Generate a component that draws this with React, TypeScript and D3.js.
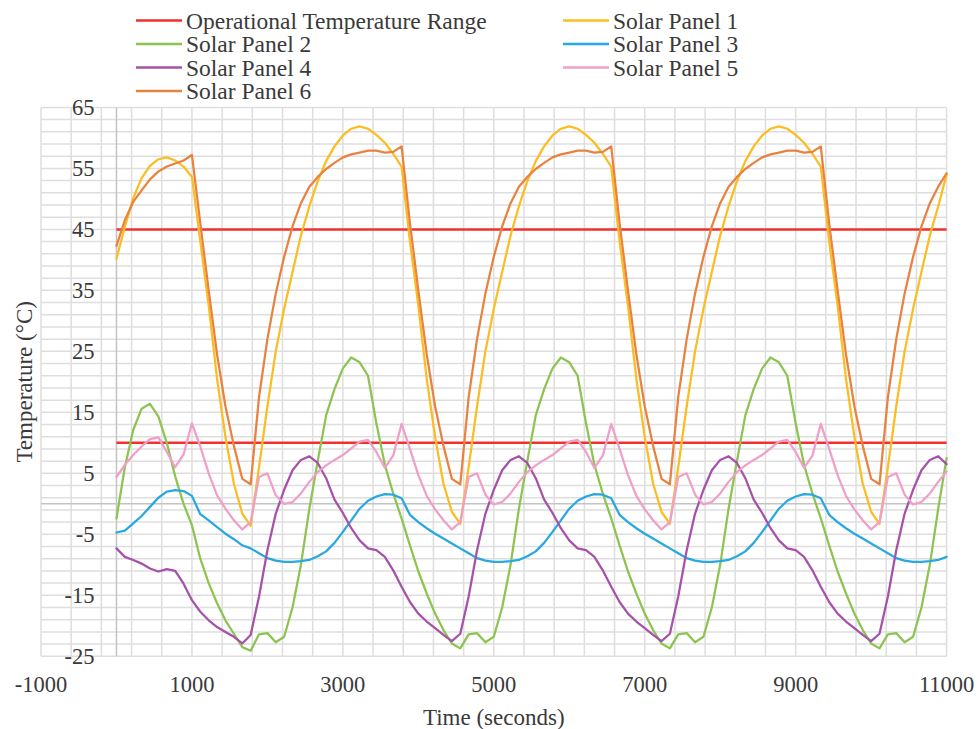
import { useEffect, useRef } from 'react';
import * as d3 from 'd3';

const WIDTH = 979;
const HEIGHT = 729;
const PLOT = { left: 41, right: 946.6, top: 107.4, bottom: 656.3 };
const FONT = '"Liberation Serif", "Times New Roman", serif';

// sample times (seconds)
const TIME = [
  0, 111, 222, 333, 444, 556, 667, 778, 889,
  1000, 1111, 1222, 1333, 1444, 1556, 1667, 1778, 1889,
  2000, 2111, 2222, 2333, 2444, 2556, 2667, 2778, 2889,
  3000, 3111, 3222, 3333, 3444, 3556, 3667, 3778, 3889,
  4000, 4111, 4222, 4333, 4444, 4556, 4667, 4778, 4889,
  5000, 5111, 5222, 5333, 5444, 5556, 5667, 5778, 5889,
  6000, 6111, 6222, 6333, 6444, 6556, 6667, 6778, 6889,
  7000, 7111, 7222, 7333, 7444, 7556, 7667, 7778, 7889,
  8000, 8111, 8222, 8333, 8444, 8556, 8667, 8778, 8889,
  9000, 9111, 9222, 9333, 9444, 9556, 9667, 9778, 9889,
  10000, 10111, 10222, 10333, 10444, 10556, 10667, 10778, 10889,
  11000,
];

const OP_TIME = [0, 11000];
const OP_UPPER = [45, 45];
const OP_LOWER = [10, 10];

const PANEL_1 = [
  40.2, 45.4, 50.1, 53.4, 55.4, 56.5, 56.8, 56.3, 55.3,
  53.6, 43, 32.5, 20.5, 11, 3.3, -1.6, -3.6, 6, 16, 25, 32, 38, 44, 48.8, 52.9, 56.2, 58.6, 60.4, 61.5, 61.9, 61.5, 60.5, 59.2, 57.4,
  55.3, 43, 32.5, 20.5, 11, 3.3, -1.3, -3.3, 6, 16, 25, 32, 38, 44, 48.8, 52.9, 56.2, 58.6, 60.4, 61.5, 61.9, 61.5, 60.5, 59.2, 57.4,
  55.3, 43, 32.5, 20.5, 11, 3.3, -1.3, -3.3, 6, 16, 25, 32, 38, 44, 48.8, 52.9, 56.2, 58.6, 60.4, 61.5, 61.9, 61.5, 60.5, 59.2, 57.4,
  55.3, 43, 32.5, 20.5, 11, 3.3, -1.3, -3.3, 6, 16, 25, 32, 38, 44, 48.8, 54,
];

const PANEL_2 = [
  -2.4, 6, 12.1, 15.6, 16.4, 14.3, 10, 4.5, 0,
  -3.5, -9, -13, -16.3, -19.1, -21.3, -23.5, -24.1, -21.4, -21.2, -22.7, -21.8, -17, -10, -0.8, 7, 14.5, 18.8, 22.2, 24, 23.2, 21, 13.2, 6.4, 1.7,
  -2.4, -6.8, -11.1, -14.7, -18, -20.7, -22.9, -23.7, -21.4, -21.2, -22.7, -21.8, -17, -10, -0.8, 7, 14.5, 18.8, 22.2, 24, 23.2, 21, 13.2, 6.4, 1.7,
  -2.4, -6.8, -11.1, -14.7, -18, -20.7, -22.9, -23.7, -21.4, -21.2, -22.7, -21.8, -17, -10, -0.8, 7, 14.5, 18.8, 22.2, 24, 23.2, 21, 13.2, 6.4, 1.7,
  -2.4, -6.8, -11.1, -14.7, -18, -20.7, -22.9, -23.7, -21.4, -21.2, -22.7, -21.8, -17, -10, -0.8, 7.5,
];

const PANEL_3 = [
  -4.7, -4.4, -3.2, -2.0, -0.5, 1.0, 2.0, 2.25, 2.1,
  1.3, -1.7, -2.7, -3.8, -4.9, -5.8, -6.8, -7.3, -8.1, -8.9, -9.3, -9.5, -9.5, -9.4, -9.2, -8.6, -7.8, -6.4, -4.6, -2.7, -0.8, 0.5, 1.2, 1.6, 1.5,
  0.9, -1.8, -3.0, -4.0, -4.9, -5.7, -6.5, -7.3, -8.1, -8.9, -9.3, -9.5, -9.5, -9.4, -9.2, -8.6, -7.8, -6.4, -4.6, -2.7, -0.8, 0.5, 1.2, 1.6, 1.5,
  0.9, -1.8, -3.0, -4.0, -4.9, -5.7, -6.5, -7.3, -8.1, -8.9, -9.3, -9.5, -9.5, -9.4, -9.2, -8.6, -7.8, -6.4, -4.6, -2.7, -0.8, 0.5, 1.2, 1.6, 1.5,
  0.9, -1.8, -3.0, -4.0, -4.9, -5.7, -6.5, -7.3, -8.1, -8.9, -9.3, -9.5, -9.5, -9.4, -9.2, -8.7,
];

const PANEL_4 = [
  -7.3, -8.7, -9.2, -9.8, -10.6, -11.1, -10.7, -11.0, -13.1,
  -15.8, -17.7, -19.1, -20.2, -21, -21.8, -22.9, -21.5, -15.2, -7.6, -1.6, 2.3, 5.5, 7.2, 7.8, 6.7, 4.2, 0.7, -1.5, -4.0, -6.0, -7.3, -7.6, -8.7, -10.9,
  -13.6, -16.1, -18, -19.3, -20.4, -21.5, -22.5, -21.3, -15.2, -7.6, -1.6, 2.3, 5.5, 7.2, 7.8, 6.7, 4.2, 0.7, -1.5, -4.0, -6.0, -7.3, -7.6, -8.7, -10.9,
  -13.6, -16.1, -18, -19.3, -20.4, -21.5, -22.5, -21.3, -15.2, -7.6, -1.6, 2.3, 5.5, 7.2, 7.8, 6.7, 4.2, 0.7, -1.5, -4.0, -6.0, -7.3, -7.6, -8.7, -10.9,
  -13.6, -16.1, -18, -19.3, -20.4, -21.5, -22.5, -21.3, -15.2, -7.6, -1.6, 2.3, 5.5, 7.2, 7.8, 6.5,
];

const PANEL_5 = [
  4.4, 6.4, 8.0, 9.4, 10.6, 10.9, 8.5, 6.0, 8.1,
  13.2, 9.4, 5.0, 1.4, -0.8, -2.7, -4.2, -3.0, 4.4, 5.0, 1.4, 0, 0.3, 1.7, 3.6, 5.2, 6.3, 7.2, 8.0, 9.1, 10.2, 10.5, 8.5, 5.9, 7.9,
  13.1, 9, 4.7, 1.3, -0.9, -2.7, -4.2, -3.0, 4.4, 5.0, 1.5, -0.1, 0.3, 1.7, 3.6, 5.2, 6.3, 7.2, 8.0, 9.1, 10.2, 10.5, 8.5, 5.9, 7.9,
  13.1, 9, 4.7, 1.3, -0.9, -2.7, -4.2, -3.0, 4.4, 5.0, 1.5, -0.1, 0.3, 1.7, 3.6, 5.2, 6.3, 7.2, 8.0, 9.1, 10.2, 10.5, 8.5, 5.9, 7.9,
  13.1, 9, 4.7, 1.3, -0.9, -2.7, -4.2, -3.0, 4.4, 5.0, 1.5, -0.1, 0.3, 1.7, 3.6, 5.3,
];

const PANEL_6 = [
  42.3, 46.5, 49.5, 51.4, 53.2, 54.5, 55.3, 55.8, 56.3,
  57.2, 46, 35, 24.5, 16, 9.5, 4.1, 3.2, 17.5, 27, 34.5, 40.5, 45.5, 49.3, 52.0, 53.6, 54.9, 55.9, 56.8, 57.3, 57.6, 57.9, 57.9, 57.6, 57.7,
  58.6, 46, 35, 24.5, 16, 9.5, 4.1, 3.2, 17.5, 27, 34.5, 40.5, 45.5, 49.3, 52.0, 53.6, 54.9, 55.9, 56.8, 57.3, 57.6, 57.9, 57.9, 57.6, 57.7,
  58.6, 46, 35, 24.5, 16, 9.5, 4.1, 3.2, 17.5, 27, 34.5, 40.5, 45.5, 49.3, 52.0, 53.6, 54.9, 55.9, 56.8, 57.3, 57.6, 57.9, 57.9, 57.6, 57.7,
  58.6, 46, 35, 24.5, 16, 9.5, 4.1, 3.2, 17.5, 27, 34.5, 40.5, 45.5, 49.3, 52.0, 54.2,
];

const X_TICKS = [-1000, 1000, 3000, 5000, 7000, 9000, 11000];
const Y_TICKS = [65, 55, 45, 35, 25, 15, 5, -5, -15, -25];

const OP_COLOR = '#f2302e';
const PANELS = [
  { name: 'Solar Panel 1', values: PANEL_1, color: '#fbbd22' },
  { name: 'Solar Panel 2', values: PANEL_2, color: '#8cc452' },
  { name: 'Solar Panel 3', values: PANEL_3, color: '#27a8e0' },
  { name: 'Solar Panel 4', values: PANEL_4, color: '#a552a8' },
  { name: 'Solar Panel 5', values: PANEL_5, color: '#ef9fc8' },
  { name: 'Solar Panel 6', values: PANEL_6, color: '#e9823f' },
];

// legend reads left-to-right, two columns
const LEGEND = [
  { name: 'Operational Temperature Range', color: OP_COLOR },
  ...PANELS.map((p) => ({ name: p.name, color: p.color })),
];

export default function App() {
  const svgRef = useRef<SVGSVGElement>(null);

  useEffect(() => {
    if (!svgRef.current) return;
    const svg = d3.select(svgRef.current);
    svg.selectAll('*').remove();

    const x = d3.scaleLinear().domain([-1000, 11000]).range([PLOT.left, PLOT.right]);
    const y = d3.scaleLinear().domain([-25, 65]).range([PLOT.bottom, PLOT.top]);

    const grid = svg.append('g').attr('stroke', '#dedede').attr('stroke-width', 1.5);
    grid
      .selectAll('line.v')
      .data(d3.range(-1000, 11001, 400))
      .enter()
      .append('line')
      .attr('x1', (d) => x(d))
      .attr('x2', (d) => x(d))
      .attr('y1', PLOT.top)
      .attr('y2', PLOT.bottom);
    grid
      .selectAll('line.h')
      .data(d3.range(-25, 66, 2))
      .enter()
      .append('line')
      .attr('x1', PLOT.left)
      .attr('x2', PLOT.right)
      .attr('y1', (d) => y(d))
      .attr('y2', (d) => y(d));

    // axes cross at zero
    svg.append('line')
      .attr('x1', x(0)).attr('x2', x(0))
      .attr('y1', PLOT.top).attr('y2', PLOT.bottom)
      .attr('stroke', '#c4c4c4').attr('stroke-width', 1.5);
    svg.append('line')
      .attr('x1', PLOT.left).attr('x2', PLOT.right)
      .attr('y1', y(0)).attr('y2', y(0))
      .attr('stroke', '#c4c4c4').attr('stroke-width', 1.5);

    const opLine = d3
      .line<number>()
      .x((_, i) => x(OP_TIME[i]))
      .y((d) => y(d));
    [OP_UPPER, OP_LOWER].forEach((vals) => {
      svg.append('path')
        .attr('d', opLine(vals))
        .attr('fill', 'none')
        .attr('stroke', OP_COLOR)
        .attr('stroke-width', 2.5);
    });

    const line = d3
      .line<number>()
      .x((_, i) => x(TIME[i]))
      .y((d) => y(d));
    PANELS.forEach((p) => {
      svg.append('path')
        .attr('d', line(p.values))
        .attr('fill', 'none')
        .attr('stroke', p.color)
        .attr('stroke-width', 2.25)
        .attr('stroke-linejoin', 'round')
        .attr('stroke-linecap', 'round');
    });

    const labels = svg.append('g').attr('font-family', FONT).attr('fill', '#3a3a3a');
    labels
      .selectAll('text.y')
      .data(Y_TICKS)
      .enter()
      .append('text')
      .attr('x', x(0) - 22)
      .attr('y', (d) => y(d))
      .attr('dy', '0.35em')
      .attr('text-anchor', 'end')
      .attr('font-size', 22.5)
      .text((d) => d);
    labels
      .selectAll('text.x')
      .data(X_TICKS)
      .enter()
      .append('text')
      .attr('x', (d) => x(d))
      .attr('y', 692)
      .attr('text-anchor', 'middle')
      .attr('font-size', 22.5)
      .text((d) => d);

    labels.append('text')
      .attr('x', (PLOT.left + PLOT.right) / 2)
      .attr('y', 725)
      .attr('text-anchor', 'middle')
      .attr('font-size', 23)
      .text('Time (seconds)');
    labels.append('text')
      .attr('transform', `translate(32,${(PLOT.top + PLOT.bottom) / 2}) rotate(-90)`)
      .attr('text-anchor', 'middle')
      .attr('font-size', 23)
      .text('Temperature (°C)');

    const legend = svg.append('g').attr('font-family', FONT);
    LEGEND.forEach((item, i) => {
      const col = i % 2;
      const row = Math.floor(i / 2);
      const lx = col === 0 ? 136 : 563;
      const by = 28.5 + row * 23.5;
      legend.append('line')
        .attr('x1', lx).attr('x2', lx + 46)
        .attr('y1', by - 8).attr('y2', by - 8)
        .attr('stroke', item.color)
        .attr('stroke-width', 2.5);
      legend.append('text')
        .attr('x', lx + 50)
        .attr('y', by)
        .attr('font-size', 23.5)
        .attr('fill', '#3a3a3a')
        .text(item.name);
    });
  }, []);

  return (
    <div style={{ position: 'absolute', left: 0, top: 0, background: '#fff' }}>
      <svg ref={svgRef} width={WIDTH} height={HEIGHT} style={{ display: 'block' }} />
    </div>
  );
}
